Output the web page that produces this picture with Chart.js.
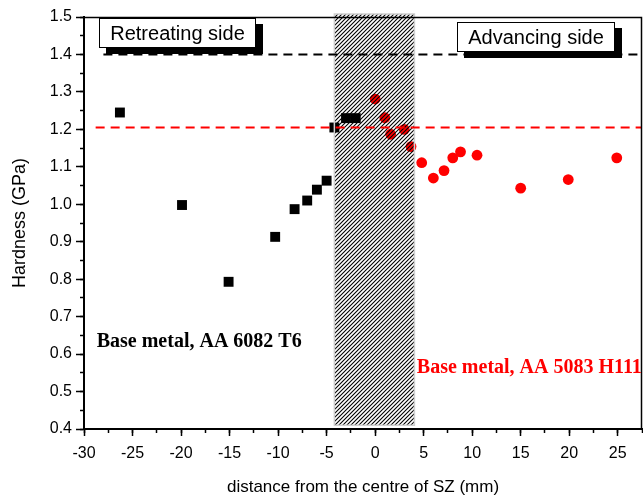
<!DOCTYPE html>
<html>
<head>
<meta charset="utf-8">
<style>
  html, body { margin: 0; padding: 0; background: #fff; }
  canvas { display: block; }
</style>
<script src="https://cdn.jsdelivr.net/npm/chart.js@4.4.1/dist/chart.umd.min.js"></script>
</head>
<body>
<canvas id="c" width="643" height="499"></canvas>
<script>
// Retreating side (AA 6082 T6) hardness, GPa
const retreatX = [-26.3, -19.9, -15.1, -10.3, -8.3, -7.0, -6.0, -5.0, -4.2, -3.0, -2.0];
const retreatH = [1.245, 0.998, 0.793, 0.913, 0.987, 1.010, 1.039, 1.063, 1.205, 1.230, 1.230];

// Advancing side (AA 5083 H111) hardness, GPa
const advanceX = [0.0, 1.0, 1.6, 3.0, 3.7, 4.8, 6.0, 7.1, 8.0, 8.8, 10.5, 15.0, 19.9, 24.9];
const advanceH = [1.281, 1.231, 1.187, 1.200, 1.154, 1.111, 1.070, 1.090, 1.124, 1.140, 1.131, 1.043, 1.066, 1.124];

// Base metal hardness levels (dashed references)
const base6082X = [-28.0, 27.5];
const base6082H = [1.40, 1.40];
const base5083X = [-28.8, 27.5];
const base5083H = [1.205, 1.205];

// Stir zone extent
const szX = [-4.2, 4.05];
const szH = [0.41, 1.508];

// Axis ranges / ticks
const xRange = [-30, 27.5];
const yRange = [0.4, 1.5];
const xMajor = 5, xMinor = 2.5;
const yMajor = 0.1, yMinor = 0.05;

const toPts = (xs, ys) => xs.map((x, i) => ({ x, y: ys[i] }));

const FONT = '"Liberation Sans", Arial, sans-serif';
const SERIF = '"Liberation Serif", "Times New Roman", serif';

// text boxes with drop shadow, anchored in data units
const sideBoxes = [
  { text: 'Retreating side', x0: -28.45, x1: -12.27, y0: 1.498, y1: 1.418 },
  { text: 'Advancing side',  x0: 8.42,   x1: 24.67,  y0: 1.4856, y1: 1.4065 }
];
const metalLabels = [
  { text: 'Base metal, AA 6082 T6',   x: -28.69, y: 0.6188, color: '#000000' },
  { text: 'Base metal, AA 5083 H111', x: 4.30,   y: 0.5494, color: '#ff0000' }
];

function hatchPattern(ctx) {
  const s = 4;
  const c = document.createElement('canvas');
  c.width = s; c.height = s;
  const g = c.getContext('2d');
  g.strokeStyle = '#000';
  g.lineWidth = 1.1;
  g.beginPath();
  g.moveTo(0, s); g.lineTo(s, 0);
  g.moveTo(-1, 1); g.lineTo(1, -1);
  g.moveTo(s - 1, s + 1); g.lineTo(s + 1, s - 1);
  g.stroke();
  return ctx.createPattern(c, 'repeat');
}

const decor = {
  id: 'decor',
  afterDatasetDraw(chart, args) {
    if (args.index !== 2) return;
    const { ctx, scales: { x, y } } = chart;
    const l = x.getPixelForValue(szX[0]), r = x.getPixelForValue(szX[1]);
    const t = y.getPixelForValue(szH[1]), b = y.getPixelForValue(szH[0]);
    ctx.save();
    ctx.fillStyle = hatchPattern(ctx);
    ctx.fillRect(l, t, r - l, b - t);
    ctx.strokeStyle = '#cfcfcf';
    ctx.lineWidth = 1.5;
    ctx.strokeRect(l, t, r - l, b - t);
    ctx.restore();
  },
  afterDraw(chart) {
    const { ctx, chartArea: a, scales: { x, y } } = chart;
    ctx.save();
    // top and right frame
    ctx.strokeStyle = '#000';
    ctx.lineWidth = 1.5;
    ctx.beginPath();
    ctx.moveTo(a.left, a.top + 0.5);
    ctx.lineTo(a.right - 0.5, a.top + 0.5);
    ctx.lineTo(a.right - 0.5, a.bottom);
    ctx.stroke();

    // side boxes
    sideBoxes.forEach(bx => {
      const x0 = Math.round(x.getPixelForValue(bx.x0)), x1 = Math.round(x.getPixelForValue(bx.x1));
      const y0 = Math.round(y.getPixelForValue(bx.y0)), y1 = Math.round(y.getPixelForValue(bx.y1));
      ctx.fillStyle = '#000';
      ctx.fillRect(x0 + 7, y0 + 6, x1 - x0, y1 - y0);
      ctx.fillStyle = '#fff';
      ctx.fillRect(x0, y0, x1 - x0, y1 - y0);
      ctx.strokeStyle = '#000';
      ctx.lineWidth = 1;
      ctx.strokeRect(x0 + 0.5, y0 + 0.5, x1 - x0 - 1, y1 - y0 - 1);
      ctx.fillStyle = '#000';
      ctx.font = '20px ' + FONT;
      ctx.textAlign = 'center';
      ctx.textBaseline = 'alphabetic';
      ctx.fillText(bx.text, (x0 + x1) / 2, (y0 + y1) / 2 + 7);
    });

    // base metal labels
    metalLabels.forEach(lb => {
      ctx.fillStyle = lb.color;
      ctx.font = 'bold 20px ' + SERIF;
      ctx.textAlign = 'left';
      ctx.textBaseline = 'alphabetic';
      ctx.fillText(lb.text, x.getPixelForValue(lb.x), y.getPixelForValue(lb.y));
    });
    ctx.restore();
  }
};

const lineDs = (pts, color) => ({
  type: 'line', data: pts, borderColor: color, borderWidth: 2,
  borderDash: [9, 6], pointRadius: 0, fill: false, tension: 0
});

const noPad = s => { s.paddingLeft = 0; s.paddingRight = 0; s.paddingTop = 0; s.paddingBottom = 0; };

new Chart(document.getElementById('c'), {
  type: 'scatter',
  data: {
    datasets: [
      lineDs(toPts(base6082X, base6082H), '#000000'),
      lineDs(toPts(base5083X, base5083H), '#ff0000'),
      {
        data: toPts(retreatX, retreatH), pointStyle: 'rect', pointRadius: 7,
        backgroundColor: '#000', borderWidth: 0
      },
      {
        data: toPts(advanceX, advanceH), pointStyle: 'circle', pointRadius: 5.4,
        backgroundColor: '#ff0000', borderWidth: 0
      }
    ]
  },
  options: {
    responsive: false,
    animation: false,
    devicePixelRatio: 1,
    layout: { autoPadding: false, padding: { top: 17, right: 1, left: 0, bottom: 0 } },
    plugins: { legend: { display: false }, tooltip: { enabled: false } },
    scales: {
      x: {
        type: 'linear', position: 'bottom', weight: 1,
        min: xRange[0], max: xRange[1],
        afterFit: s => { s.height = 70; noPad(s); },
        grid: { drawOnChartArea: false, tickLength: 7, tickColor: '#000', tickWidth: 1.5 },
        border: { display: true, color: '#000', width: 2 },
        ticks: {
          stepSize: xMajor, includeBounds: false, color: '#000', padding: 8,
          font: { family: FONT, size: 16 }, maxRotation: 0,
          callback: v => String(v)
        },
        title: {
          display: true, text: 'distance from the centre of SZ (mm)', color: '#000',
          font: { family: FONT, size: 17 }, padding: { top: 1, bottom: 1 }
        }
      },
      xMinor: {
        type: 'linear', position: 'bottom', weight: 0,
        min: xRange[0], max: xRange[1],
        afterFit: s => { s.height = 0; noPad(s); },
        grid: { drawOnChartArea: false, tickLength: 4, tickColor: '#000', tickWidth: 1.5 },
        border: { display: false },
        ticks: { stepSize: xMinor, display: false }
      },
      y: {
        type: 'linear', position: 'left', weight: 1,
        min: yRange[0], max: yRange[1],
        afterFit: s => { s.width = 84; noPad(s); },
        grid: { drawOnChartArea: false, tickLength: 8, tickColor: '#000', tickWidth: 1.5 },
        border: { display: true, color: '#000', width: 2 },
        ticks: {
          stepSize: yMajor, includeBounds: false, color: '#000', padding: 4,
          font: { family: FONT, size: 16 },
          callback: v => Number(v).toFixed(1)
        },
        title: {
          display: true, text: 'Hardness (GPa)', color: '#000',
          font: { family: FONT, size: 18 }, padding: { top: 9, bottom: 9 }
        }
      },
      yMinor: {
        type: 'linear', position: 'left', weight: 0,
        min: yRange[0], max: yRange[1],
        afterFit: s => { s.width = 0; noPad(s); },
        grid: { drawOnChartArea: false, tickLength: 4, tickColor: '#000', tickWidth: 1.5 },
        border: { display: false },
        ticks: { stepSize: yMinor, display: false }
      }
    }
  },
  plugins: [decor]
});
</script>
</body>
</html>
